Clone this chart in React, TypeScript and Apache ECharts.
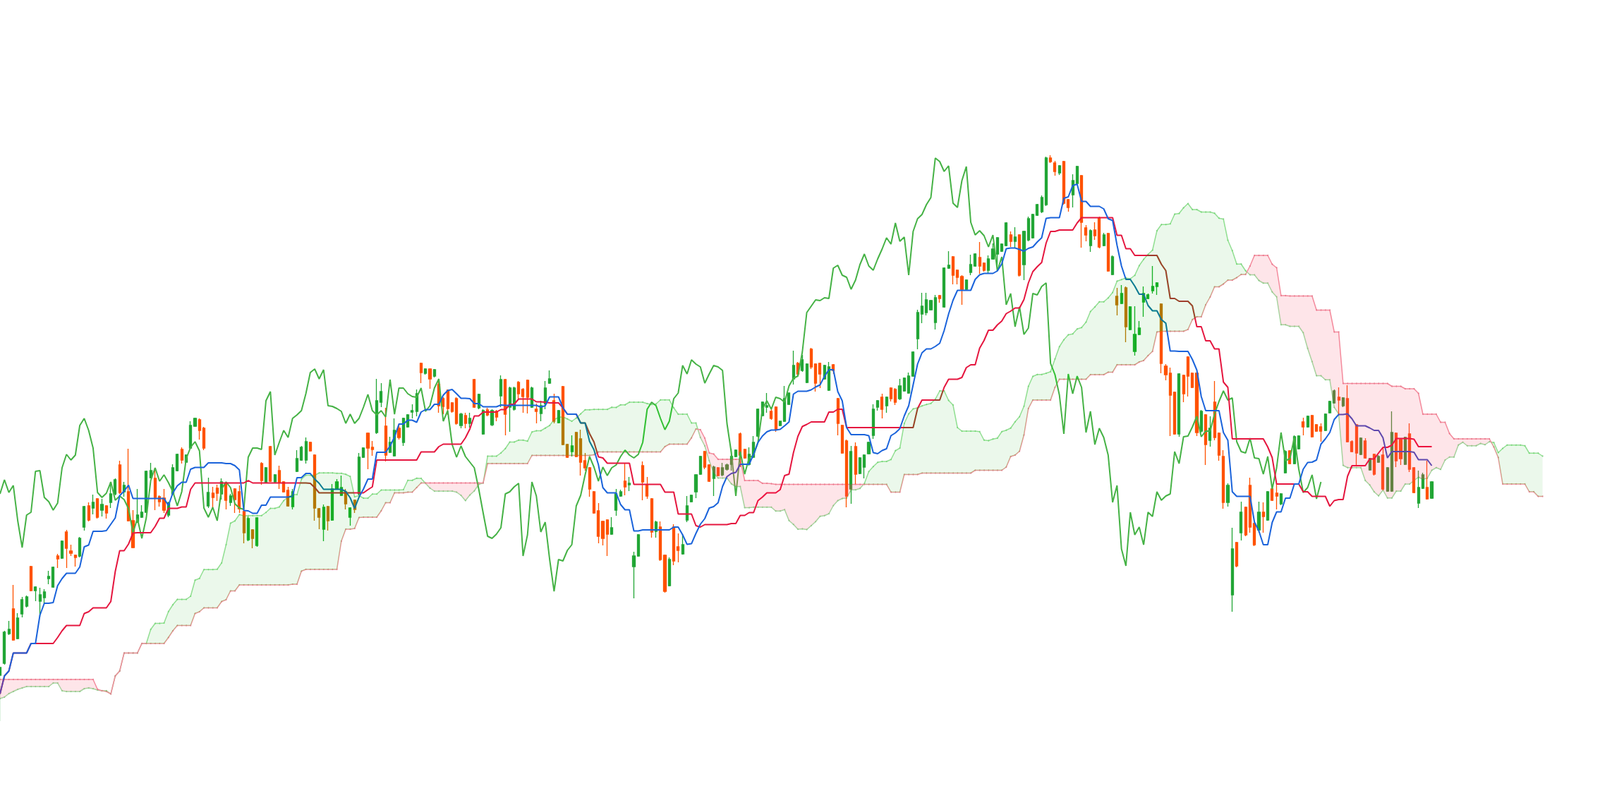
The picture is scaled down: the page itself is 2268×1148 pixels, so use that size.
import React, { useEffect, useRef } from 'react';
import * as echarts from 'echarts';

const opens = [
  24.3, 26.0, 30.2, 33.7, 29.5, 33.0, 34.1, 39.7, 36.3, 34.8,
  35.3, 38.0, 36.8, 41.2, 40.9, 44.6, 41.9, 41.3, 41.2, 45.3,
  48.3, 48.0, 49.3, 47.7, 48.3, 48.8, 50.0, 54.1, 50.3, 50.3,
  46.2, 46.1, 46.7, 47.4, 52.3, 52.2, 49.6, 49.4, 47.0, 50.0,
  53.3, 56.3, 54.5, 56.5, 59.6, 60.5, 59.3, 48.3, 50.1, 50.8,
  50.0, 51.5, 48.8, 50.7, 50.3, 47.5, 43.5, 44.9, 42.7, 54.3,
  51.6, 56.7, 51.7, 53.3, 51.7, 50.5, 48.2, 53.2, 54.8, 54.8,
  57.3, 55.5, 47.9, 45.0, 48.2, 46.3, 50.7, 49.8, 50.3, 46.7,
  49.1, 50.0, 55.2, 58.6, 56.6, 58.7, 63.0, 59.6, 55.9, 55.4,
  59.3, 57.3, 59.5, 61.6, 61.7, 68.5, 67.1, 67.7, 66.7, 65.5,
  63.5, 64.7, 62.9, 63.5, 59.7, 61.1, 60.0, 66.2, 62.2, 58.5,
  61.9, 59.8, 61.7, 63.9, 66.2, 62.3, 62.0, 65.8, 64.8, 66.1,
  62.3, 62.0, 61.4, 62.8, 65.7, 63.2, 60.1, 65.2, 57.0, 56.0,
  58.7, 57.8, 54.7, 53.7, 50.3, 47.6, 46.1, 46.3, 44.3, 47.7,
  49.7, 51.8, 51.3, 39.7, 41.2, 54.0, 51.3, 49.3, 44.7, 45.3,
  41.3, 37.0, 45.3, 42.5, 41.5, 46.3, 48.9, 50.3, 52.8, 56.0,
  54.1, 52.2, 53.7, 52.7, 53.5, 54.2, 55.3, 58.5, 56.3, 54.2,
  55.2, 58.2, 61.1, 62.3, 61.7, 62.3, 59.7, 60.3, 62.7, 66.3,
  68.5, 67.5, 65.8, 70.5, 68.4, 68.5, 66.3, 64.7, 68.3, 63.5,
  59.7, 57.5, 50.7, 56.7, 52.9, 53.8, 55.7, 58.3, 62.3, 63.7,
  62.5, 65.0, 64.8, 63.5, 64.6, 64.3, 66.7, 72.0, 75.5, 75.7,
  76.1, 74.3, 78.1, 76.5, 82.0, 83.6, 81.7, 80.8, 79.0, 81.4,
  82.3, 83.5, 82.7, 81.7, 83.3, 84.0, 84.4, 85.2, 86.7, 85.8,
  86.7, 82.5, 86.0, 86.3, 89.5, 90.0, 91.0, 97.6, 96.9, 95.5,
  97.1, 91.7, 92.4, 94.0, 95.1, 87.7, 85.2, 87.4, 89.1, 85.2,
  86.9, 81.1, 78.0, 77.0, 79.2, 73.3, 70.2, 72.6, 77.2, 77.7,
  78.8, 79.4, 76.9, 68.1, 67.1, 64.4, 58.5, 66.8, 69.4, 67.1,
  67.1, 58.9, 61.2, 57.6, 63.0, 58.6, 55.3, 48.8, 35.7, 43.1,
  44.5, 48.1, 51.2, 45.8, 44.9, 47.4, 46.3, 50.7, 50.1, 48.6,
  53.0, 56.1, 54.3, 56.4, 60.2, 59.5, 61.1, 59.8, 59.5, 59.0,
  61.5, 62.9, 63.7, 62.5, 63.5, 57.4, 59.8, 55.6, 57.5, 53.4,
  55.6, 54.5, 55.5, 50.4, 50.4, 58.6, 57.7, 54.2, 58.5, 53.7,
  48.7, 50.8, 50.9, 49.4,
];

const highs = [
  25.5, 30.6, 32.0, 37.1, 33.1, 35.4, 35.6, 39.8, 36.9, 36.7,
  36.5, 39.1, 39.7, 41.5, 43.4, 44.9, 42.8, 41.4, 43.9, 48.3,
  48.8, 49.9, 49.4, 49.3, 48.4, 51.7, 52.2, 54.7, 51.7, 56.4,
  47.7, 50.7, 48.4, 53.3, 54.4, 53.7, 49.8, 50.7, 48.9, 54.2,
  55.7, 56.6, 55.6, 60.3, 60.8, 60.7, 59.5, 52.3, 51.0, 51.3,
  52.2, 51.7, 50.0, 50.8, 51.2, 47.8, 46.8, 45.0, 46.7, 54.5,
  53.8, 56.8, 52.8, 54.0, 51.8, 51.0, 50.7, 56.2, 56.8, 58.0,
  57.4, 55.6, 48.0, 48.5, 48.3, 51.4, 52.1, 52.6, 50.7, 48.1,
  49.2, 55.8, 56.6, 58.7, 57.5, 66.3, 65.7, 62.2, 58.1, 60.7,
  60.0, 60.8, 61.3, 62.7, 64.8, 68.6, 67.8, 67.8, 67.7, 66.0,
  63.7, 64.8, 63.0, 63.7, 61.5, 61.5, 61.5, 66.3, 64.2, 62.0,
  62.2, 62.0, 61.9, 66.8, 66.3, 65.2, 65.2, 66.0, 65.0, 66.2,
  65.2, 62.8, 63.2, 66.0, 67.5, 64.2, 61.9, 65.3, 57.1, 58.3,
  58.8, 59.1, 55.8, 53.8, 50.4, 48.7, 46.2, 46.4, 46.7, 50.7,
  50.6, 54.3, 52.4, 41.8, 44.3, 54.6, 52.4, 49.4, 46.2, 46.1,
  41.4, 41.0, 45.7, 44.4, 44.3, 49.7, 49.9, 52.8, 55.4, 56.1,
  54.2, 54.0, 53.8, 54.4, 54.3, 56.4, 56.3, 58.7, 56.4, 56.6,
  58.2, 62.1, 63.1, 64.3, 62.0, 62.4, 60.3, 65.3, 64.3, 70.3,
  68.7, 69.7, 68.5, 70.7, 68.5, 68.6, 68.3, 68.7, 68.4, 63.6,
  59.8, 57.7, 56.8, 57.3, 55.2, 55.6, 57.4, 62.7, 63.3, 64.2,
  63.8, 65.1, 65.0, 66.3, 66.5, 67.2, 70.2, 76.1, 78.5, 78.5,
  77.5, 78.2, 78.2, 82.1, 84.4, 83.7, 81.8, 81.0, 80.4, 83.9,
  84.1, 85.7, 82.8, 83.8, 85.5, 86.4, 85.5, 88.5, 87.2, 87.8,
  86.8, 87.3, 89.3, 89.7, 91.1, 92.3, 97.8, 98.0, 97.2, 96.6,
  97.2, 91.8, 95.3, 96.5, 95.2, 88.1, 87.5, 88.5, 89.3, 87.0,
  87.0, 83.8, 79.2, 79.6, 79.4, 76.6, 76.6, 74.5, 79.4, 78.4,
  82.3, 80.0, 77.0, 68.4, 67.9, 64.5, 67.1, 66.9, 69.5, 67.2,
  67.3, 61.9, 61.3, 61.0, 66.0, 58.7, 56.2, 51.5, 45.2, 43.2,
  48.9, 48.2, 52.3, 45.9, 48.9, 48.8, 50.4, 50.8, 51.4, 50.1,
  56.2, 56.2, 58.3, 58.3, 60.8, 61.1, 61.2, 59.9, 60.0, 61.4,
  63.2, 64.8, 65.1, 63.7, 65.4, 57.6, 59.9, 58.0, 57.9, 55.1,
  55.7, 55.5, 56.6, 53.8, 61.7, 58.7, 57.9, 58.1, 60.0, 53.8,
  53.3, 53.0, 54.7, 51.8,
];

const lows = [
  17.8, 25.8, 30.0, 29.2, 29.4, 32.5, 33.9, 36.2, 34.8, 32.6,
  34.4, 37.2, 36.7, 39.5, 40.8, 39.5, 41.2, 39.7, 41.0, 44.8,
  46.1, 47.1, 46.5, 46.8, 46.5, 48.0, 49.8, 50.0, 49.6, 46.1,
  42.3, 45.9, 46.6, 47.3, 52.2, 47.7, 48.2, 47.3, 46.7, 49.8,
  53.2, 54.3, 54.4, 56.4, 59.5, 57.7, 56.2, 48.0, 48.0, 49.0,
  49.2, 47.8, 48.3, 47.3, 47.3, 43.0, 43.3, 42.3, 42.5, 51.3,
  51.5, 51.7, 51.6, 50.7, 50.2, 48.2, 47.8, 53.1, 54.7, 54.3,
  56.0, 46.2, 45.0, 43.3, 44.8, 46.2, 50.6, 49.7, 47.8, 45.5,
  47.3, 49.8, 55.1, 53.5, 55.4, 58.5, 62.3, 54.6, 55.8, 55.3,
  57.7, 56.8, 59.4, 60.7, 61.0, 65.7, 66.9, 64.9, 66.5, 61.5,
  61.3, 61.2, 61.5, 59.8, 59.3, 59.3, 59.4, 62.2, 62.0, 58.4,
  61.0, 59.6, 60.3, 62.3, 58.3, 58.8, 61.8, 63.5, 61.5, 61.4,
  62.2, 60.0, 60.3, 62.0, 65.6, 60.0, 60.0, 56.9, 55.1, 55.3,
  55.2, 52.6, 53.3, 49.6, 47.2, 43.0, 42.7, 41.2, 44.2, 46.9,
  49.6, 49.8, 50.4, 35.2, 41.1, 49.1, 49.3, 43.8, 43.8, 40.5,
  36.0, 36.9, 39.9, 40.3, 41.4, 46.0, 48.8, 49.4, 52.7, 53.5,
  51.7, 49.7, 52.5, 52.5, 53.3, 53.3, 55.2, 53.8, 55.0, 54.0,
  55.1, 58.0, 61.0, 61.5, 60.5, 58.8, 59.6, 60.2, 62.6, 65.5,
  66.8, 67.3, 65.7, 67.7, 64.5, 65.0, 66.2, 64.6, 67.0, 58.3,
  55.7, 48.1, 48.6, 51.4, 52.8, 52.2, 55.6, 57.8, 61.8, 60.7,
  61.5, 63.1, 62.6, 63.3, 64.5, 64.2, 66.6, 70.5, 74.2, 75.3,
  76.0, 73.3, 77.1, 76.4, 81.9, 79.7, 79.7, 76.8, 78.8, 81.0,
  82.2, 81.2, 81.5, 81.2, 83.2, 82.2, 84.3, 85.1, 85.0, 84.9,
  80.8, 80.3, 85.8, 86.2, 89.4, 89.8, 90.8, 96.9, 95.1, 95.2,
  91.0, 90.0, 90.6, 93.9, 84.9, 85.8, 84.3, 86.0, 84.8, 85.1,
  81.5, 81.0, 75.3, 76.9, 71.5, 73.2, 69.6, 72.5, 75.1, 77.6,
  78.4, 78.2, 67.1, 66.1, 58.2, 58.4, 58.1, 63.0, 63.8, 65.0,
  58.2, 58.7, 54.1, 56.7, 57.6, 54.7, 47.9, 48.2, 33.3, 39.6,
  43.4, 44.0, 44.5, 42.6, 44.5, 44.5, 46.2, 49.0, 47.8, 48.4,
  52.9, 54.2, 54.2, 56.3, 58.3, 59.4, 58.0, 58.8, 57.4, 58.9,
  61.4, 62.8, 61.1, 62.3, 57.3, 55.9, 53.9, 55.5, 55.0, 53.3,
  52.6, 54.4, 50.5, 50.3, 50.3, 53.8, 54.1, 54.1, 53.1, 50.1,
  48.0, 50.7, 49.2, 49.3,
];

const closes = [
  25.4, 30.4, 30.8, 29.3, 32.4, 35.0, 35.4, 36.3, 36.8, 35.7,
  36.1, 38.3, 39.6, 40.8, 43.3, 42.3, 41.6, 41.0, 43.7, 48.2,
  46.3, 48.8, 46.7, 48.5, 47.3, 50.0, 52.0, 50.2, 51.2, 46.2,
  42.4, 47.0, 47.4, 53.2, 53.3, 49.5, 48.9, 47.7, 48.7, 53.7,
  55.6, 54.8, 55.5, 59.7, 60.7, 59.0, 56.5, 50.2, 49.5, 50.1,
  51.7, 49.1, 49.7, 49.2, 47.9, 44.5, 46.5, 43.7, 46.6, 51.9,
  53.7, 51.8, 52.7, 51.6, 50.3, 48.3, 50.3, 55.0, 56.6, 57.4,
  56.1, 48.0, 46.7, 48.1, 46.2, 50.7, 51.7, 50.9, 48.6, 48.0,
  47.8, 55.2, 56.5, 56.5, 56.3, 63.2, 64.5, 55.5, 57.3, 59.0,
  58.0, 60.7, 61.2, 61.8, 64.2, 67.2, 67.7, 66.3, 67.6, 62.5,
  62.4, 62.1, 61.7, 60.0, 61.3, 60.0, 60.7, 62.3, 64.1, 61.8,
  61.2, 61.8, 60.9, 66.2, 61.3, 65.0, 65.0, 64.2, 63.8, 63.7,
  65.0, 61.7, 62.5, 65.0, 66.3, 60.3, 61.8, 57.0, 55.2, 56.8,
  55.3, 54.5, 53.7, 50.7, 47.3, 44.0, 43.7, 44.3, 45.2, 50.0,
  50.3, 51.0, 51.5, 41.2, 44.2, 51.7, 49.7, 44.6, 46.0, 40.7,
  36.2, 40.7, 40.5, 42.0, 42.8, 48.3, 49.8, 52.7, 55.3, 53.8,
  51.8, 53.8, 52.6, 53.7, 54.1, 55.3, 56.2, 55.5, 55.1, 55.6,
  57.3, 62.0, 63.0, 62.5, 60.7, 59.1, 60.3, 63.5, 64.3, 68.2,
  67.0, 69.0, 68.4, 68.0, 65.7, 67.0, 68.2, 68.0, 67.5, 60.0,
  55.8, 49.7, 56.0, 52.8, 55.1, 55.5, 57.3, 62.0, 63.2, 62.0,
  63.7, 63.5, 63.0, 65.3, 66.4, 66.7, 70.1, 75.7, 76.6, 77.5,
  77.4, 77.8, 77.7, 82.0, 82.4, 81.0, 80.7, 79.0, 80.3, 82.5,
  84.0, 82.3, 81.7, 83.3, 84.7, 86.3, 85.4, 88.4, 85.8, 86.4,
  81.0, 87.2, 89.0, 89.6, 91.0, 92.0, 97.6, 97.1, 95.7, 96.5,
  91.2, 90.6, 94.4, 96.4, 88.5, 86.7, 87.3, 86.6, 85.0, 86.7,
  81.6, 83.6, 76.8, 78.4, 73.7, 76.5, 72.6, 73.5, 78.4, 78.2,
  79.4, 79.9, 68.5, 66.9, 64.0, 58.5, 67.0, 64.2, 66.7, 65.1,
  58.7, 61.7, 57.0, 59.3, 58.0, 55.5, 48.8, 51.2, 42.2, 39.8,
  47.4, 44.2, 45.3, 42.8, 47.4, 46.8, 50.3, 49.1, 49.7, 50.0,
  56.0, 54.3, 58.1, 58.2, 59.5, 61.0, 58.1, 58.9, 58.9, 61.3,
  63.1, 64.6, 63.3, 63.6, 57.4, 56.0, 55.8, 57.9, 55.1, 55.0,
  52.8, 55.3, 50.7, 53.7, 58.7, 54.7, 55.0, 58.0, 53.5, 50.2,
  50.9, 52.7, 49.3, 51.7,
];

// Leading spans for the first 25 plotted periods (they come from history before the first candle)
const leadSpanA = [
  21.0, 21.2, 21.7, 22.0, 22.3, 22.5, 22.7, 22.7, 22.7, 22.7,
  22.7, 22.7, 23.2, 23.2, 22.1, 22.0, 22.0, 22.0, 22.0, 22.4,
  22.5, 22.4, 22.2, 22.1, 22.1,
];
const leadSpanB = [
  23.7, 23.7, 23.7, 23.7, 23.7, 23.7, 23.7, 23.7, 23.7, 23.7,
  23.7, 23.7, 23.7, 23.7, 23.7, 23.7, 23.7, 23.7, 23.7, 23.7,
  23.7, 23.7, 22.3, 22.1, 22.0,
];

const DISPLACEMENT = 25;
const TENKAN_PERIOD = 9;
const KIJUN_PERIOD = 26;
const SENKOU_B_PERIOD = 52;

const N = closes.length;
const TOTAL = N + DISPLACEMENT;
const categories = Array.from({ length: TOTAL }, (_, i) => `P${i + 1}`);

function midpoint(end: number, period: number): number {
  let hi = -Infinity;
  let lo = Infinity;
  for (let k = Math.max(0, end - period + 1); k <= end; k++) {
    if (highs[k] > hi) hi = highs[k];
    if (lows[k] < lo) lo = lows[k];
  }
  return (hi + lo) / 2;
}

const tenkan: (number | null)[] = categories.map((_, i) => (i < N ? midpoint(i, TENKAN_PERIOD) : null));
const kijun: (number | null)[] = categories.map((_, i) => (i < N ? midpoint(i, KIJUN_PERIOD) : null));
const spanA: number[] = categories.map((_, k) =>
  k < DISPLACEMENT ? leadSpanA[k] : ((tenkan[k - DISPLACEMENT] as number) + (kijun[k - DISPLACEMENT] as number)) / 2
);
const spanB: number[] = categories.map((_, k) =>
  k < DISPLACEMENT ? leadSpanB[k] : midpoint(k - DISPLACEMENT, SENKOU_B_PERIOD)
);
const chikou: (number | null)[] = categories.map((_, j) => (j + DISPLACEMENT < N ? closes[j + DISPLACEMENT] : null));
const candleData = closes.map((c, i) => [opens[i], c, lows[i], highs[i]]);

type Run = { s: number; top: number[][]; bot: number[][] };
function buildRuns(): Run[] {
  const runs: Run[] = [];
  let run: Run | null = null;
  const sgn = (d: number) => (d > 0 ? 1 : d < 0 ? -1 : 0);
  for (let k = 0; k < TOTAL; k++) {
    const a = spanA[k];
    const b = spanB[k];
    const s = sgn(a - b);
    if (!run) {
      run = { s: s || 1, top: [[k, a]], bot: [[k, b]] };
      continue;
    }
    if (s !== 0 && s !== run.s) {
      const a0 = spanA[k - 1];
      const b0 = spanB[k - 1];
      const d0 = a0 - b0;
      const d1 = a - b;
      const t = d0 / (d0 - d1);
      const xc = k - 1 + t;
      const yc = a0 + (a - a0) * t;
      run.top.push([xc, yc]);
      run.bot.push([xc, yc]);
      runs.push(run);
      run = { s, top: [[xc, yc]], bot: [[xc, yc]] };
    }
    run.top.push([k, a]);
    run.bot.push([k, b]);
  }
  if (run) runs.push(run);
  return runs;
}
const cloudRuns = buildRuns();

const TINT_GREEN = 'rgb(3,201,5)';
const TINT_RED = 'rgb(251,3,61)';

function makeCloudRenderer(green: string, red: string, opacity: number) {
  return (_params: any, api: any) => {
    const xAt = (x: number) => {
      const k0 = Math.max(0, Math.min(TOTAL - 2, Math.floor(x)));
      const p0 = api.coord([k0, 50])[0];
      const p1 = api.coord([k0 + 1, 50])[0];
      return p0 + (p1 - p0) * (x - k0);
    };
    const yAt = (v: number) => api.coord([0, v])[1];
    const children = cloudRuns.map((run) => {
      const pts = run.top.concat(run.bot.slice().reverse()).map(([x, v]) => [xAt(x), yAt(v)]);
      return {
        type: 'polygon',
        shape: { points: pts },
        style: { fill: run.s > 0 ? green : red, opacity },
        silent: true,
      };
    });
    return { type: 'group', children };
  };
}

export default function App() {
  const ref = useRef<HTMLDivElement>(null);

  useEffect(() => {
    if (!ref.current) return;
    const chart = echarts.init(ref.current, null, { renderer: 'svg' });

    const option: any = {
      animation: false,
      backgroundColor: '#ffffff',
      grid: { left: -2, right: 81.4, top: 0, bottom: 0 },
      xAxis: { type: 'category', data: categories, boundaryGap: false, show: false },
      yAxis: { type: 'value', min: 5.2, max: 120, show: false },
      series: [
        {
          type: 'custom',
          name: 'cloud',
          renderItem: makeCloudRenderer('#eff5ef', '#fde5e9', 1),
          data: [[0, 50]],
          encode: { x: 0, y: 1 },
          silent: true,
          z: 0,
        },
        {
          type: 'line',
          name: 'Senkou A',
          data: spanA,
          symbol: 'circle',
          symbolSize: 2,
          showSymbol: true,
          showAllSymbol: true,
          itemStyle: { color: '#86cf86' },
          lineStyle: { color: '#9ad99a', width: 1.5 },
          silent: true,
          z: 1,
        },
        {
          type: 'line',
          name: 'Senkou B',
          data: spanB,
          symbol: 'circle',
          symbolSize: 2,
          showSymbol: true,
          showAllSymbol: true,
          itemStyle: { color: '#e67d8e' },
          lineStyle: { color: '#f28c9c', width: 1.5 },
          silent: true,
          z: 1,
        },
        {
          type: 'candlestick',
          name: 'Price',
          data: candleData,
          barWidth: 3.6,
          clip: true,
          itemStyle: {
            color: '#22a636',
            color0: '#ff5200',
            borderColor: '#22a636',
            borderColor0: '#ff5200',
            borderWidth: 1.3,
          },
          silent: true,
          z: 2,
        },
        {
          type: 'line',
          name: 'Chikou',
          data: chikou,
          showSymbol: false,
          lineStyle: { color: '#45b245', width: 2 },
          silent: true,
          z: 3,
        },
        {
          type: 'line',
          name: 'Kijun',
          data: kijun,
          showSymbol: false,
          lineStyle: { color: '#e5163f', width: 2 },
          silent: true,
          z: 3,
        },
        {
          type: 'line',
          name: 'Tenkan',
          data: tenkan,
          showSymbol: false,
          lineStyle: { color: '#1a63db', width: 2 },
          silent: true,
          z: 3,
        },
        {
          type: 'custom',
          name: 'cloud tint',
          renderItem: makeCloudRenderer(TINT_GREEN, TINT_RED, 0.3),
          data: [[0, 50]],
          encode: { x: 0, y: 1 },
          silent: true,
          z: 5,
        },
      ],
    };

    const applyBlend = () => {
      const root = ref.current;
      if (!root) return;
      root.querySelectorAll('path').forEach((el) => {
        const f = (el.getAttribute('fill') || '').replace(/\s+/g, '').toLowerCase();
        if (f === TINT_GREEN || f === TINT_RED || f === '#03c905' || f === '#fb033d') {
          (el as unknown as SVGElement).style.mixBlendMode = 'color';
        }
      });
    };

    chart.on('finished', applyBlend);
    chart.setOption(option);
    applyBlend();
    const raf = requestAnimationFrame(applyBlend);
    const t1 = setTimeout(applyBlend, 60);
    const t2 = setTimeout(applyBlend, 300);

    return () => {
      cancelAnimationFrame(raf);
      clearTimeout(t1);
      clearTimeout(t2);
      chart.dispose();
    };
  }, []);

  return (
    <div
      ref={ref}
      style={{ position: 'fixed', left: 0, top: 0, width: 2268, height: 1148, background: '#ffffff' }}
    />
  );
}
